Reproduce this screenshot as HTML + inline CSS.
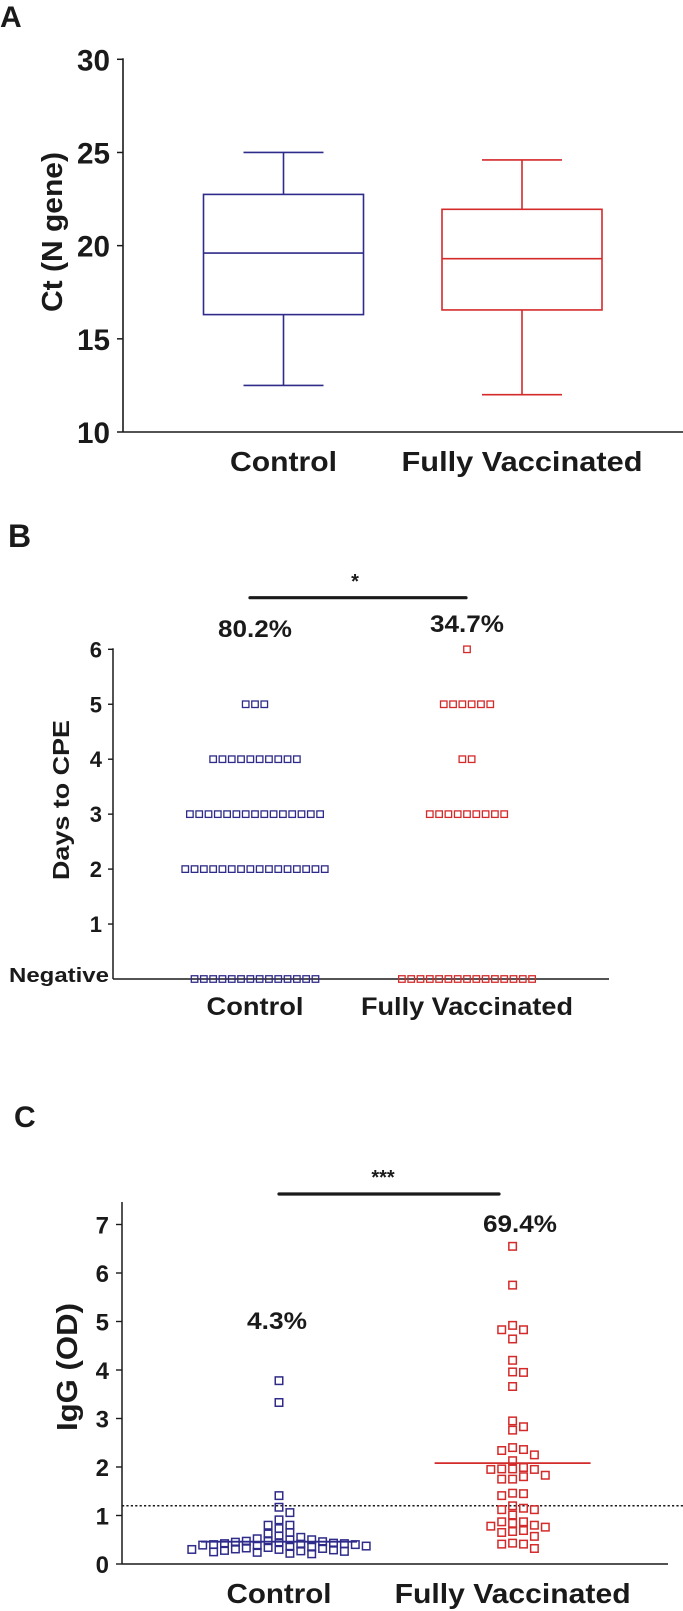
<!DOCTYPE html>
<html><head><meta charset="utf-8"><style>
html,body{margin:0;padding:0;background:#fff;}
svg{display:block;font-family:"Liberation Sans",Arial,sans-serif;}
text{font-weight:bold;fill:#1a1a1a;}
</style></head><body>
<svg id="fig" width="683" height="1611" viewBox="0 0 683 1611" xmlns="http://www.w3.org/2000/svg">
<g id="pa"></g>
<g id="pb"></g>
<g id="pc"></g>
</svg>
<script>
// ---------- data ----------
const groups = ["Control", "Fully Vaccinated"];
const boxMax = [25.0, 24.6];
const boxQ3 = [22.75, 21.95];
const boxMedian = [19.6, 19.3];
const boxQ1 = [16.3, 16.55];
const boxMin = [12.5, 12.0];
const aTicks = [10, 15, 20, 25, 30];

const bLevels = [0, 1, 2, 3, 4, 5, 6];
const bTickLabels = ["Negative", "1", "2", "3", "4", "5", "6"];
const bControlCounts = [14, 0, 16, 15, 10, 3, 0];
const bVaccCounts = [15, 0, 0, 9, 2, 6, 1];
const bPercents = ["80.2%", "34.7%"];

const cTicks = [0, 1, 2, 3, 4, 5, 6, 7];
const cControl = [3.78, 3.33, 1.41, 1.17, 1.06, 0.91, 0.80, 0.73, 0.80, 0.65, 0.62,
  0.58, 0.55, 0.52, 0.50, 0.50, 0.48, 0.47, 0.46, 0.45, 0.44, 0.43, 0.42, 0.42, 0.41, 0.40,
  0.40, 0.39, 0.38, 0.37, 0.36, 0.35, 0.34, 0.33, 0.32, 0.31, 0.30, 0.30, 0.29, 0.28, 0.27,
  0.26, 0.25, 0.24, 0.22, 0.21];
const cVacc = [6.55, 5.75, 4.92, 4.83, 4.83, 4.64, 4.2, 3.95, 3.96, 3.66, 2.95, 2.83, 2.76,
  2.4, 2.34, 2.25, 2.36, 2.13, 1.96, 1.96, 1.99, 1.95, 1.95, 1.83, 1.75, 1.75, 1.8, 1.46,
  1.41, 1.45, 1.2, 1.12, 1.12, 1.15, 1.01, 0.87, 0.8, 0.84, 0.87, 0.78, 0.69, 0.65, 0.57,
  0.67, 0.76, 0.43, 0.41, 0.41, 0.32];
const cMedians = [0.46, 2.08];
const cCutoff = [1.2];
const cPercents = ["4.3%", "69.4%"];

const BLUE = "#2f2b8a", RED = "#d42a2a", INK = "#1a1a1a";
const NS = "http://www.w3.org/2000/svg";
function mk(parent, tag, attrs, txt) {
  const e = document.createElementNS(NS, tag);
  for (const k in attrs) e.setAttribute(k, attrs[k]);
  if (txt !== undefined) e.textContent = txt;
  parent.appendChild(e);
  return e;
}

// ---------- Panel A ----------
(function () {
  const g = document.getElementById('pa');
  const ax = 123, y0 = 432, y1 = 59.3;
  const y = v => y0 - (v - 10) / 20 * (y0 - y1);
  const cx = [283.5, 522], halfBox = 80, halfCap = 40, cols = [BLUE, RED];
  let t = mk(g, 'text', {x: 0, y: 27, 'font-size': 30});
  t.textContent = 'A';
  
  
  let l = mk(g, 'line', {x1: ax, y1: y(30) - 1, x2: ax, y2: y0, stroke: INK, 'stroke-width': 1.6});
  
  
  l = mk(g, 'line', {x1: ax, y1: y0, x2: 683, y2: y0, stroke: INK, 'stroke-width': 1.6});
  
  
  aTicks.forEach(v => {
    const tk = mk(g, 'line', {x1: ax - 6, y1: y(v), x2: ax, y2: y(v), stroke: INK, 'stroke-width': 1.5});
    
    
    const tl = mk(g, 'text', {x: 110, y: y(v) + 11, 'font-size': 30, 'text-anchor': 'end', textLength: 33, lengthAdjust: 'spacingAndGlyphs'}, String(v));
    
    
  });
  t = mk(g, 'text', {x: 0, y: 0, 'font-size': 29, 'text-anchor': 'middle', transform: 'translate(62,232) rotate(-90)', textLength: 160, lengthAdjust: 'spacingAndGlyphs'}, 'Ct (N gene)');
  
  
  groups.forEach((name, i) => {
    const bg = mk(g, 'g', {stroke: cols[i], 'stroke-width': 1.6, fill: 'none'});
    
    
    mk(bg, 'rect', {x: cx[i] - halfBox, y: y(boxQ3[i]), width: 2 * halfBox, height: y(boxQ1[i]) - y(boxQ3[i])});
    mk(bg, 'line', {x1: cx[i] - halfBox, x2: cx[i] + halfBox, y1: y(boxMedian[i]), y2: y(boxMedian[i])});
    mk(bg, 'line', {x1: cx[i], x2: cx[i], y1: y(boxMax[i]), y2: y(boxQ3[i])});
    mk(bg, 'line', {x1: cx[i], x2: cx[i], y1: y(boxQ1[i]), y2: y(boxMin[i])});
    mk(bg, 'line', {x1: cx[i] - halfCap, x2: cx[i] + halfCap, y1: y(boxMax[i]), y2: y(boxMax[i])});
    mk(bg, 'line', {x1: cx[i] - halfCap, x2: cx[i] + halfCap, y1: y(boxMin[i]), y2: y(boxMin[i])});
    const xl = mk(g, 'text', {x: cx[i], y: 471, 'font-size': 28, 'text-anchor': 'middle', textLength: i ? 241 : 107, lengthAdjust: 'spacingAndGlyphs'}, name);
    
    
  });
})();

// ---------- Panel B ----------
(function () {
  const g = document.getElementById('pb');
  const ax = 113, y0 = 979, y6 = 649.3;
  const y = v => y0 - v / 6 * (y0 - y6);
  const cx = [255, 467], cols = [BLUE, RED], counts = [bControlCounts, bVaccCounts];
  let t = mk(g, 'text', {x: 8, y: 547, 'font-size': 32}, 'B');
  
  
  let l = mk(g, 'line', {x1: ax, y1: y(6) - 1, x2: ax, y2: y0, stroke: INK, 'stroke-width': 1.5});
  
  
  l = mk(g, 'line', {x1: ax, y1: y0, x2: 609, y2: y0, stroke: INK, 'stroke-width': 1.5});
  
  
  bLevels.forEach((v, i) => {
    if (v > 0) {
      const tk = mk(g, 'line', {x1: ax - 5, y1: y(v), x2: ax, y2: y(v), stroke: INK, 'stroke-width': 1.4});
      
      
      const tl = mk(g, 'text', {x: 102, y: y(v) + 8, 'font-size': 22, 'text-anchor': 'end'}, bTickLabels[i]);
      
      
    } else {
      const tl = mk(g, 'text', {x: 9, y: 982, 'font-size': 20, textLength: 100, lengthAdjust: 'spacingAndGlyphs'}, bTickLabels[i]);
      
      
    }
  });
  t = mk(g, 'text', {x: 0, y: 0, 'font-size': 23, 'text-anchor': 'middle', transform: 'translate(69,800) rotate(-90)', textLength: 160, lengthAdjust: 'spacingAndGlyphs'}, 'Days to CPE');
  
  
  const sp = 9.3, ms = 6.5;
  groups.forEach((name, gi) => {
    const sg = mk(g, 'g', {stroke: cols[gi], 'stroke-width': 1.3, fill: 'none'});
    
    
    bLevels.forEach((lv, li) => {
      const n = counts[gi][li];
      for (let k = 0; k < n; k++) {
        const px = cx[gi] + (k - (n - 1) / 2) * sp;
        const r = mk(sg, 'rect', {x: px - ms / 2, y: y(lv) - ms / 2, width: ms, height: ms});
        
        
      }
    });
    const xl = mk(g, 'text', {x: cx[gi], y: 1015, 'font-size': 25, 'text-anchor': 'middle', textLength: gi ? 212 : 97, lengthAdjust: 'spacingAndGlyphs'}, name);
    
    
    const pt = mk(g, 'text', {x: cx[gi], y: gi ? 632 : 637, 'font-size': 24, 'text-anchor': 'middle', textLength: 74, lengthAdjust: 'spacingAndGlyphs'}, bPercents[gi]);
    
    
  });
  l = mk(g, 'line', {x1: 250, y1: 597.7, x2: 466, y2: 597.7, stroke: INK, 'stroke-width': 3.2, 'stroke-linecap': 'round'});
  
  
  t = mk(g, 'text', {x: 355, y: 588, 'font-size': 20, 'font-weight': 'normal', 'text-anchor': 'middle'}, '*');
  
  
})();

// ---------- Panel C ----------
(function () {
  const g = document.getElementById('pc');
  const ax = 122, y0 = 1564, unit = 48.5;
  const y = v => y0 - v * unit;
  const cx = [279, 512.6], cols = [BLUE, RED], data = [cControl, cVacc];
  let t = mk(g, 'text', {x: 14, y: 1127, 'font-size': 30}, 'C');
  
  
  let l = mk(g, 'line', {x1: ax, y1: 1202, x2: ax, y2: y0, stroke: INK, 'stroke-width': 1.5});
  
  
  l = mk(g, 'line', {x1: ax, y1: y0, x2: 668, y2: y0, stroke: INK, 'stroke-width': 1.5});
  
  
  cTicks.forEach(v => {
    const tk = mk(g, 'line', {x1: ax - 6, y1: y(v), x2: ax, y2: y(v), stroke: INK, 'stroke-width': 1.4});
    
    
    const tl = mk(g, 'text', {x: 109, y: y(v) + 9, 'font-size': 24, 'text-anchor': 'end'}, String(v));
    
    
  });
  t = mk(g, 'text', {x: 0, y: 0, 'font-size': 29, 'text-anchor': 'middle', transform: 'translate(77,1367) rotate(-90)', textLength: 128, lengthAdjust: 'spacingAndGlyphs'}, 'IgG (OD)');
  
  
  l = mk(g, 'line', {x1: ax, y1: y(cCutoff[0]), x2: 683, y2: y(cCutoff[0]), stroke: INK, 'stroke-width': 1.5, 'stroke-dasharray': '2.2,2.2'});
  
  
  const ms = 7.5, colSp = 10.9, minDys = [6.5, 8.2];
  groups.forEach((name, gi) => {
    const sg = mk(g, 'g', {stroke: cols[gi], 'stroke-width': 1.5, fill: 'none'});
    
    
    const vals = data[gi].slice().sort((a, b) => b - a);
    const placed = [];
    const minDy = minDys[gi];
    vals.forEach(v => {
      const py = y(v);
      let off = 0;
      for (let k = 0; k < 40; k++) {
        off = k === 0 ? 0 : (k % 2 ? (k + 1) / 2 : -k / 2);
        if (!placed.some(p => p.c === off && Math.abs(p.y - py) < minDy)) break;
      }
      placed.push({c: off, y: py});
      const r = mk(sg, 'rect', {x: cx[gi] + off * colSp - ms / 2, y: py - ms / 2, width: ms, height: ms});
      
      
    });
    const md = mk(g, 'line', {x1: cx[gi] - 78, x2: cx[gi] + 78, y1: y(cMedians[gi]), y2: y(cMedians[gi]), stroke: cols[gi], 'stroke-width': 1.8});
    
    
    const xl = mk(g, 'text', {x: cx[gi], y: 1603, 'font-size': 28, 'text-anchor': 'middle', textLength: gi ? 236 : 105, lengthAdjust: 'spacingAndGlyphs'}, name);
    
    
  });
  let p = mk(g, 'text', {x: 277, y: 1329, 'font-size': 24, 'text-anchor': 'middle', textLength: 60, lengthAdjust: 'spacingAndGlyphs'}, cPercents[0]);
  
  
  p = mk(g, 'text', {x: 520, y: 1232, 'font-size': 24, 'text-anchor': 'middle', textLength: 74, lengthAdjust: 'spacingAndGlyphs'}, cPercents[1]);
  
  
  l = mk(g, 'line', {x1: 279, y1: 1194, x2: 499, y2: 1194, stroke: INK, 'stroke-width': 3.2, 'stroke-linecap': 'round'});
  
  
  t = mk(g, 'text', {x: 383, y: 1184, 'font-size': 20, 'font-weight': 'normal', 'text-anchor': 'middle'}, '***');
  
  
})();
</script>
</body></html>
